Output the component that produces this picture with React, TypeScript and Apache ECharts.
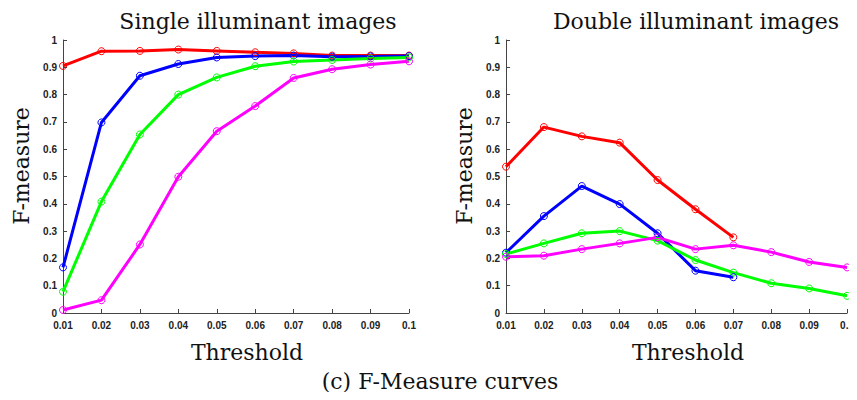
import React, { useEffect, useRef } from "react";
import * as echarts from "echarts";

const thresholds = ["0.01", "0.02", "0.03", "0.04", "0.05", "0.06", "0.07", "0.08", "0.09", "0.1"];

// Single illuminant images
const singleRed = [0.905, 0.959, 0.96, 0.965, 0.96, 0.955, 0.951, 0.943, 0.943, 0.943];
const singleBlue = [0.167, 0.698, 0.869, 0.912, 0.936, 0.941, 0.943, 0.939, 0.94, 0.941];
const singleGreen = [0.078, 0.408, 0.654, 0.8, 0.863, 0.904, 0.921, 0.927, 0.932, 0.936];
const singleMagenta = [0.011, 0.047, 0.251, 0.499, 0.666, 0.758, 0.861, 0.893, 0.91, 0.922];

// Double illuminant images
const doubleRed = [0.536, 0.681, 0.647, 0.624, 0.487, 0.38, 0.277];
const doubleBlue = [0.221, 0.355, 0.465, 0.399, 0.292, 0.155, 0.131];
const doubleGreen = [0.216, 0.255, 0.292, 0.3, 0.265, 0.194, 0.148, 0.109, 0.09, 0.063];
const doubleMagenta = [0.206, 0.21, 0.234, 0.255, 0.277, 0.234, 0.248, 0.223, 0.187, 0.167];

const colors = { red: "#ff0000", blue: "#0000ff", green: "#00ff00", magenta: "#ff00ff" };

const SERIF = "'DejaVu Serif', serif";
const SANS = "'Liberation Sans', Arial, sans-serif";

function mkSeries(name: string, data: number[], color: string, idx: number) {
  return {
    name,
    type: "line",
    xAxisIndex: idx,
    yAxisIndex: idx,
    data,
    symbol: "circle",
    symbolSize: 7,
    showSymbol: true,
    lineStyle: { color, width: 3 },
    itemStyle: { color: "rgba(0,0,0,0)", borderColor: color, borderWidth: 1 },
    emphasis: { disabled: true },
  };
}

function xAxis(idx: number) {
  return {
    type: "category",
    gridIndex: idx,
    data: thresholds,
    boundaryGap: false,
    axisLine: { lineStyle: { color: "#444", width: 1 } },
    axisTick: { inside: true, length: 4, lineStyle: { color: "#444" } },
    axisLabel: { color: "#222", fontFamily: SANS, fontWeight: "bold", fontSize: 10, margin: 7 },
    splitLine: { show: false },
  };
}

function yAxis(idx: number) {
  return {
    type: "value",
    gridIndex: idx,
    min: 0,
    max: 1,
    interval: 0.1,
    axisLine: { show: true, lineStyle: { color: "#444", width: 1 } },
    axisTick: { show: true, inside: true, length: 4, lineStyle: { color: "#444" } },
    axisLabel: {
      color: "#222",
      fontFamily: SANS,
      fontWeight: "bold",
      fontSize: 10,
      margin: 6,
      formatter: (v: number) => (v === 0 ? "0" : v === 1 ? "1" : v.toFixed(1)),
    },
    splitLine: { show: false },
  };
}

function txt(text: string, x: number, y: number, rotation = 0) {
  return {
    type: "text",
    x,
    y,
    rotation,
    style: {
      text,
      fill: "#111",
      font: `22px ${SERIF}`,
      align: "center",
      verticalAlign: "middle",
    },
  };
}

export default function App() {
  const ref = useRef<HTMLDivElement>(null);
  useEffect(() => {
    if (!ref.current) return;
    const chart = echarts.init(ref.current, null, { renderer: "svg" });
    chart.setOption({
      animation: false,
      backgroundColor: "#fff",
      grid: [
        { left: 63, right: 448, top: 40, bottom: 87 },
        { left: 506, right: 5, top: 40, bottom: 87 },
      ],
      xAxis: [xAxis(0), xAxis(1)],
      yAxis: [yAxis(0), yAxis(1)],
      series: [
        mkSeries("Red", singleRed, colors.red, 0),
        mkSeries("Blue", singleBlue, colors.blue, 0),
        mkSeries("Green", singleGreen, colors.green, 0),
        mkSeries("Magenta", singleMagenta, colors.magenta, 0),
        mkSeries("Red", doubleRed, colors.red, 1),
        mkSeries("Blue", doubleBlue, colors.blue, 1),
        mkSeries("Green", doubleGreen, colors.green, 1),
        mkSeries("Magenta", doubleMagenta, colors.magenta, 1),
      ],
      graphic: [
        txt("Single illuminant images", 258, 21),
        txt("Double illuminant images", 696, 21),
        txt("F-measure", 21, 166, Math.PI / 2),
        txt("F-measure", 464, 166, Math.PI / 2),
        txt("Threshold", 247, 352),
        txt("Threshold", 688, 352),
        txt("(c) F-Measure curves", 440, 381),
      ],
    });
    return () => chart.dispose();
  }, []);
  return <div ref={ref} style={{ width: 857, height: 400, margin: -8 }} />;
}
